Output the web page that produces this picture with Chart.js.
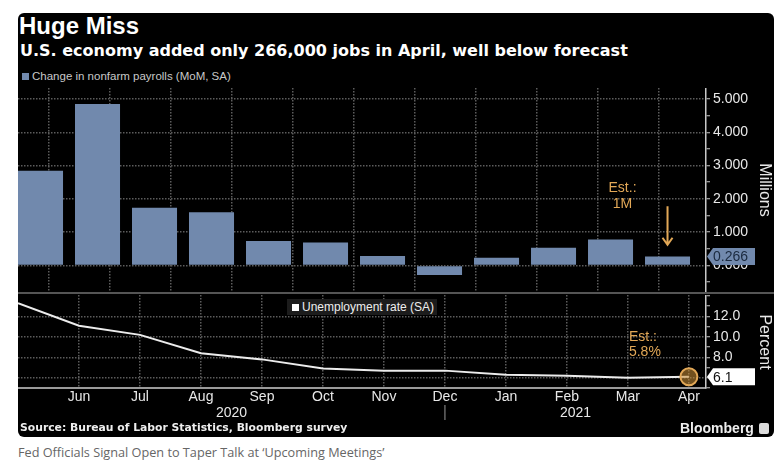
<!DOCTYPE html>
<html>
<head>
<meta charset="utf-8">
<script src="https://cdn.jsdelivr.net/npm/chart.js@4.4.1/dist/chart.umd.min.js"></script>
<style>
  body { margin: 0; width: 783px; height: 467px; background: #fff; position: relative; overflow: hidden; font-family: "Liberation Sans", Arial, sans-serif; }
  .abs { position: absolute; white-space: nowrap; }
  #panel { left: 18px; top: 13px; width: 756px; height: 424px; background: #000; border-radius: 6px; }
  #title { left: 19px; top: 13px; color: #fff; font-weight: bold; font-size: 24px; line-height: 25px; }
  #subtitle { left: 20px; top: 42px; color: #fff; font-family: "DejaVu Sans", sans-serif; font-weight: bold; font-size: 16px; line-height: 17px; }
  #legend1 { left: 22px; top: 70px; color: #c8c8c8; font-size: 11.5px; line-height: 12px; }
  #legend1 i { display: inline-block; width: 7px; height: 7px; background: #7189ad; margin-right: 3px; }
  #legend2 { left: 287px; top: 299px; width: 150px; height: 16px; background: #1c1c1c; color: #eee; font-size: 12px; line-height: 16px; }
  #legend2 i { display: inline-block; width: 7px; height: 7px; background: #fff; margin: 0 3px 0 5px; }
  #sep { left: 18px; top: 292px; width: 756px; height: 2px; background: #555; }
  #wrap1 { left: 18px; top: 88px; width: 756px; height: 204px; }
  #wrap2 { left: 18px; top: 295px; width: 756px; height: 130px; }
  #source { left: 20px; top: 422px; color: #eee; font-family: "DejaVu Sans", sans-serif; font-weight: bold; font-size: 10.8px; line-height: 12px; }
  #brand { left: 680px; top: 420px; color: #eee; font-weight: bold; font-size: 14px; line-height: 16px; }
  #brand b { display: inline-block; width: 10px; height: 11px; background: #ddd; border-radius: 2px; margin-left: 5px; vertical-align: -1px; }
  #caption { left: 18px; top: 443px; color: #666; font-family: "Open Sans", sans-serif; font-size: 12.7px; line-height: 18px; }
</style>
</head>
<body>
<div id="panel" class="abs"></div>
<div id="title" class="abs">Huge Miss</div>
<div id="subtitle" class="abs">U.S. economy added only 266,000 jobs in April, well below forecast</div>
<div id="legend1" class="abs"><i></i>Change in nonfarm payrolls (MoM, SA)</div>
<div id="wrap1" class="abs"><canvas id="payrollChart"></canvas></div>
<div id="sep" class="abs"></div>
<div id="wrap2" class="abs"><canvas id="rateChart"></canvas></div>
<div id="legend2" class="abs"><i></i>Unemployment rate (SA)</div>
<div id="source" class="abs">Source: Bureau of Labor Statistics, Bloomberg survey</div>
<div id="brand" class="abs">Bloomberg<b></b></div>
<div id="caption" class="abs">Fed Officials Signal Open to Taper Talk at ‘Upcoming Meetings’</div>
<script>
// data (May 2020 - Apr 2021)
const months = ['May', 'Jun', 'Jul', 'Aug', 'Sep', 'Oct', 'Nov', 'Dec', 'Jan', 'Feb', 'Mar', 'Apr'];
const payrolls = [2.84, 4.85, 1.73, 1.60, 0.73, 0.69, 0.28, -0.29, 0.23, 0.53, 0.78, 0.266];
const unemployment = [13.3, 11.1, 10.2, 8.4, 7.8, 6.9, 6.7, 6.7, 6.3, 6.2, 6.0, 6.1];
const years = ['2020', '2021'];
const yearBreak = 7;
const payrollTicks = [0, 1, 2, 3, 4, 5];
const rateTicks = [6, 8, 10, 12];
const payrollEst = ['Est.:', '1M'];
const rateEst = ['Est.:', '5.8%'];

const BAR = '#7189ad';
const GRID = '#5c5c5c';
const AXIS = '#c8c8c8';
const TEXT = '#e8e8e8';
const EST = '#e2a857';

Chart.defaults.font.family = '"Liberation Sans", Arial, sans-serif';
Chart.defaults.animation = false;

// keep the plot area flush with the canvas edges
function noEdgePadding(s) {
    s.paddingTop = 0;
    s.paddingBottom = 0;
    s.paddingLeft = 0;
    s.paddingRight = 0;
}

// month grid shared by both panels
function monthAxis(showLabels) {
    return {
        type: 'linear',
        position: 'bottom',
        min: 0,
        max: 11.28,
        offset: false,
        afterFit: s => { s.height = showLabels ? 37 : 0; noEdgePadding(s); },
        ticks: {
            display: showLabels,
            stepSize: 1,
            includeBounds: false,
            autoSkip: false,
            maxRotation: 0,
            padding: 1,
            color: TEXT,
            font: { size: 14 },
            callback: v => (Number.isInteger(v) && v > 0) ? months[v] : ''
        },
        grid: {
            drawTicks: false,
            lineWidth: 1.5,
            color: c => (c.tick && Number.isInteger(c.tick.value) && c.tick.value > 0) ? GRID : 'transparent'
        },
        border: { display: showLabels, color: '#9a9a9a', width: 2, dash: [1.5, 1.5] }
    };
}

function valueBox(ctx, x, y, text, bg, fg) {
    ctx.save();
    ctx.fillStyle = bg;
    ctx.beginPath();
    ctx.moveTo(x, y);
    ctx.lineTo(x + 6, y - 8.5);
    ctx.lineTo(x + 48, y - 8.5);
    ctx.lineTo(x + 48, y + 8.5);
    ctx.lineTo(x + 6, y + 8.5);
    ctx.closePath();
    ctx.fill();
    ctx.fillStyle = fg;
    ctx.font = '14px "Liberation Sans"';
    ctx.textBaseline = 'middle';
    ctx.fillText(text, x + 6, y + 1);
    ctx.restore();
}

function sideTitle(ctx, text, x, y) {
    ctx.save();
    ctx.translate(x, y);
    ctx.rotate(Math.PI / 2);
    ctx.fillStyle = TEXT;
    ctx.font = '16px "Liberation Sans"';
    ctx.textAlign = 'center';
    ctx.textBaseline = 'middle';
    ctx.fillText(text, 0, 0);
    ctx.restore();
}

const payrollDecor = {
    id: 'payrollDecor',
    afterDraw(chart) {
        const { ctx, chartArea, scales } = chart;
        const last = payrolls.length - 1;
        const bx = scales.x.getPixelForValue(last);

        // estimate note and arrow
        ctx.save();
        ctx.fillStyle = EST;
        ctx.font = '14px "Liberation Sans"';
        ctx.textAlign = 'center';
        ctx.textBaseline = 'middle';
        ctx.fillText(payrollEst[0], bx - 45, scales.y.getPixelForValue(2.32));
        ctx.fillText(payrollEst[1], bx - 45, scales.y.getPixelForValue(1.83));
        const y1 = scales.y.getPixelForValue(1.78);
        const y2 = scales.y.getPixelForValue(0.62);
        ctx.strokeStyle = EST;
        ctx.lineWidth = 2;
        ctx.beginPath();
        ctx.moveTo(bx, y1);
        ctx.lineTo(bx, y2);
        ctx.moveTo(bx - 5, y2 - 7);
        ctx.lineTo(bx, y2);
        ctx.lineTo(bx + 5, y2 - 7);
        ctx.stroke();
        ctx.restore();

        valueBox(ctx, chartArea.right + 1, scales.y.getPixelForValue(payrolls[last]),
            payrolls[last].toFixed(3), BAR, '#1b2a3f');
        sideTitle(ctx, 'Millions', chartArea.right + 58, 102);
    }
};

const rateDecor = {
    id: 'rateDecor',
    afterDraw(chart) {
        const { ctx, chartArea, scales } = chart;
        const last = unemployment.length - 1;
        const px = scales.x.getPixelForValue(last);

        ctx.save();
        ctx.fillStyle = EST;
        ctx.font = '14px "Liberation Sans"';
        ctx.textAlign = 'left';
        ctx.textBaseline = 'middle';
        ctx.fillText(rateEst[0], px - 60, scales.y.getPixelForValue(10.0));
        ctx.fillText(rateEst[1], px - 60, scales.y.getPixelForValue(8.55));

        // year labels under the months
        ctx.fillStyle = TEXT;
        ctx.textAlign = 'center';
        const xb = scales.x.getPixelForValue(yearBreak);
        ctx.fillText(years[0], (chartArea.left + xb) / 2, chartArea.bottom + 25);
        ctx.fillText(years[1], (xb + chartArea.right) / 2, chartArea.bottom + 25);
        ctx.strokeStyle = '#999';
        ctx.lineWidth = 1;
        ctx.beginPath();
        ctx.moveTo(xb, chartArea.bottom + 17);
        ctx.lineTo(xb, chartArea.bottom + 32);
        ctx.stroke();
        ctx.restore();

        valueBox(ctx, chartArea.right + 1, scales.y.getPixelForValue(unemployment[last]),
            unemployment[last].toFixed(1), '#fff', '#111');
        sideTitle(ctx, 'Percent', chartArea.right + 58, 47);
    }
};

new Chart(document.getElementById('payrollChart'), {
    type: 'bar',
    data: {
        datasets: [{
            data: payrolls.map((v, i) => ({ x: i, y: v })),
            backgroundColor: BAR,
            categoryPercentage: 1,
            barPercentage: 0.79,
            xAxisID: 'x'
        }]
    },
    options: {
        responsive: true,
        maintainAspectRatio: false,
        layout: { padding: 0, autoPadding: false },
        plugins: { legend: { display: false }, tooltip: { enabled: false } },
        scales: {
            x: { type: 'linear', display: false, offset: false, min: -0.395, max: 11.675 },
            xg: monthAxis(false),
            y: {
                position: 'right',
                min: -0.8,
                max: 5.33,
                afterFit: s => { s.width = 68; noEdgePadding(s); },
                ticks: {
                    stepSize: 0.5,
                    includeBounds: false,
                    autoSkip: false,
                    padding: 3,
                    color: TEXT,
                    font: { size: 14 },
                    callback: v => payrollTicks.includes(v) ? v.toFixed(3) : ''
                },
                grid: {
                    tickLength: 4,
                    lineWidth: 1.5,
                    color: c => (c.tick && payrollTicks.includes(c.tick.value)) ? GRID : 'transparent',
                    tickColor: AXIS,
                    tickWidth: 1
                },
                border: { color: AXIS, width: 1.5, dash: [1.5, 1.5] }
            }
        }
    },
    plugins: [payrollDecor]
});

new Chart(document.getElementById('rateChart'), {
    type: 'line',
    data: {
        datasets: [{
            data: unemployment.map((v, i) => ({ x: i, y: v })),
            borderColor: '#ececec',
            borderWidth: 2,
            tension: 0,
            pointRadius: c => c.dataIndex === unemployment.length - 1 ? 8.5 : 0,
            pointBackgroundColor: 'rgba(205, 145, 55, 0.55)',
            pointBorderColor: EST,
            pointBorderWidth: 2,
            clip: false
        }]
    },
    options: {
        responsive: true,
        maintainAspectRatio: false,
        layout: { padding: 0, autoPadding: false },
        plugins: { legend: { display: false }, tooltip: { enabled: false } },
        scales: {
            x: monthAxis(true),
            y: {
                position: 'right',
                min: 5,
                max: 14.1,
                afterFit: s => { s.width = 68; noEdgePadding(s); },
                ticks: {
                    stepSize: 1,
                    includeBounds: false,
                    autoSkip: false,
                    padding: 3,
                    color: TEXT,
                    font: { size: 14 },
                    callback: v => rateTicks.includes(v) ? v.toFixed(1) : ''
                },
                grid: {
                    tickLength: 4,
                    lineWidth: 1.5,
                    color: c => (c.tick && rateTicks.includes(c.tick.value)) ? GRID : 'transparent',
                    tickColor: AXIS,
                    tickWidth: 1
                },
                border: { color: AXIS, width: 1.5, dash: [1.5, 1.5] }
            }
        }
    },
    plugins: [rateDecor]
});
</script>
</body>
</html>
